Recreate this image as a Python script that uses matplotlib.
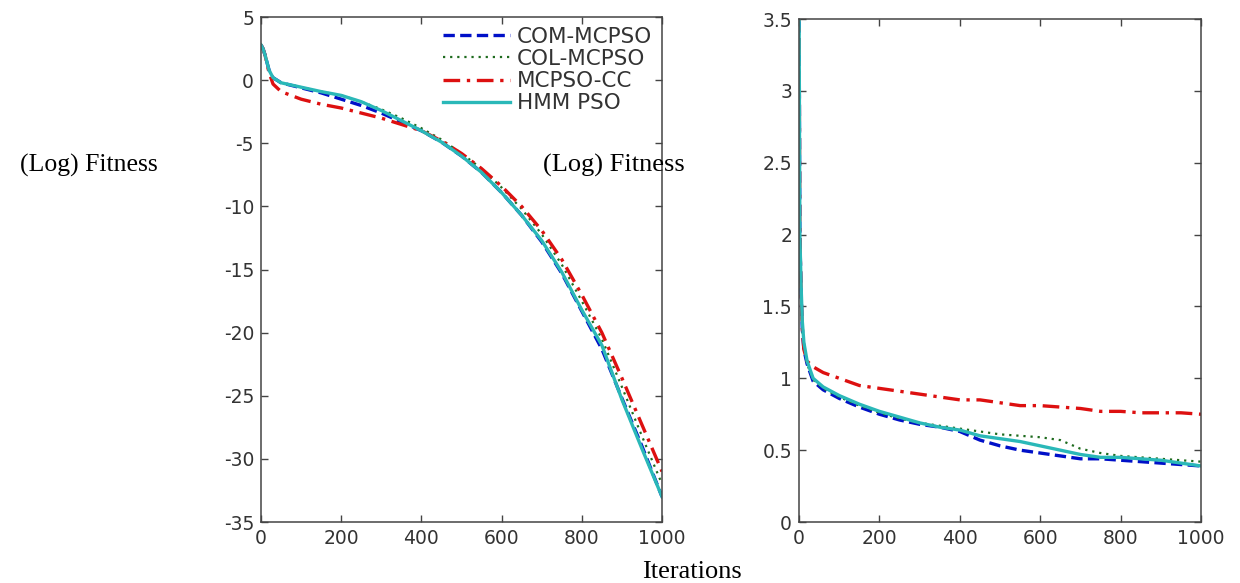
import matplotlib
matplotlib.use("Agg")
import matplotlib.pyplot as plt

plt.rcParams['axes.unicode_minus'] = False

# ---- left panel data (log fitness vs iterations) ----
iters_left = [0, 5, 10, 20, 30, 50, 100, 150, 200, 250, 300, 350, 400, 450,
              500, 550, 600, 650, 700, 750, 800, 850, 900, 950, 1000]
com_left = [2.8, 2.5, 2.0, 0.8, 0.2, -0.2, -0.6, -1.0, -1.5, -2.0, -2.6, -3.3, -4.0,
            -4.9, -6.0, -7.3, -8.9, -10.7, -12.8, -15.3, -18.3, -21.3, -25.2, -29.0, -33.0]
col_left = [2.8, 2.5, 2.0, 0.8, 0.2, -0.2, -0.55, -0.9, -1.2, -1.7, -2.3, -3.0, -3.8,
            -4.7, -5.8, -7.0, -8.5, -10.2, -12.2, -14.6, -17.5, -20.5, -24.3, -28.2, -32.0]
cc_left = [2.8, 2.5, 2.0, 0.6, -0.3, -0.9, -1.5, -1.9, -2.2, -2.6, -3.0, -3.5, -4.0,
           -4.8, -5.8, -7.0, -8.4, -10.0, -11.9, -14.2, -17.0, -20.0, -23.6, -27.3, -31.0]
hmm_left = [2.8, 2.5, 2.0, 0.8, 0.2, -0.2, -0.55, -0.9, -1.2, -1.7, -2.4, -3.2, -4.0,
            -4.9, -6.0, -7.3, -8.9, -10.7, -12.7, -15.2, -18.2, -21.0, -25.3, -29.2, -33.0]

# ---- right panel data ----
iters_right = [0, 2, 5, 8, 12, 20, 35, 60, 100, 150, 200, 250, 300, 350, 400,
               450, 500, 550, 600, 650, 700, 750, 800, 850, 900, 950, 1000]
com_right = [3.6, 2.0, 1.6, 1.35, 1.2, 1.1, 0.98, 0.92, 0.86, 0.80, 0.75, 0.71, 0.68, 0.66,
             0.63, 0.57, 0.53, 0.50, 0.48, 0.46, 0.44, 0.44, 0.43, 0.42, 0.41, 0.40, 0.39]
col_right = [3.6, 2.0, 1.6, 1.35, 1.22, 1.1, 0.99, 0.93, 0.87, 0.81, 0.76, 0.72, 0.69, 0.67,
             0.65, 0.63, 0.61, 0.60, 0.59, 0.57, 0.51, 0.48, 0.46, 0.45, 0.44, 0.43, 0.42]
cc_right = [3.6, 2.0, 1.6, 1.35, 1.2, 1.12, 1.08, 1.04, 1.0, 0.95, 0.93, 0.91, 0.89, 0.87,
            0.85, 0.85, 0.83, 0.81, 0.81, 0.80, 0.79, 0.77, 0.77, 0.76, 0.76, 0.76, 0.75]
hmm_right = [3.6, 2.0, 1.65, 1.4, 1.25, 1.12, 1.0, 0.94, 0.88, 0.82, 0.77, 0.73, 0.69, 0.66,
             0.64, 0.60, 0.58, 0.56, 0.53, 0.50, 0.47, 0.45, 0.45, 0.44, 0.43, 0.41, 0.39]

labels = ["COM-MCPSO", "COL-MCPSO", "MCPSO-CC", "HMM PSO"]
styles = [dict(color="#0010C8", ls=(0, (3.4, 1.6)), lw=2.4),
          dict(color="#1E6B1E", ls=(0, (1, 2.2)), lw=1.6),
          dict(color="#DD1010", ls=(0, (5, 2, 1, 2)), lw=2.4),
          dict(color="#2AB8B8", ls="-", lw=2.4)]

fig = plt.figure(figsize=(12.4, 5.83), dpi=100)
ax1 = fig.add_axes([0.2105, 0.1046, 0.3234, 0.866])
ax2 = fig.add_axes([0.6444, 0.1046, 0.3242, 0.8627])

for series, st, lab in zip([com_left, col_left, cc_left, hmm_left], styles, labels):
    ax1.plot(iters_left, series, label=lab, **st)
for series, st in zip([com_right, col_right, cc_right, hmm_right], styles):
    ax2.plot(iters_right, series, **st)

ax1.set_xlim(0, 1000)
ax1.set_ylim(-35, 5)
ax1.set_yticks(range(-35, 6, 5))
ax2.set_xlim(0, 1000)
ax2.set_ylim(0, 3.5)
ax2.set_yticks([0, 0.5, 1, 1.5, 2, 2.5, 3, 3.5])
ax2.set_yticklabels(["0", "0.5", "1", "1.5", "2", "2.5", "3", "3.5"])

for ax in (ax1, ax2):
    ax.set_xticks(range(0, 1001, 200))
    ax.tick_params(direction="in", top=True, right=True, length=5, width=1,
                   colors="#444444", labelcolor="#333333", labelsize=13.5,
                   labelfontfamily="DejaVu Sans", pad=5)
    for sp in ax.spines.values():
        sp.set_color("#444444")
        sp.set_linewidth(1.1)

ax1.legend(loc="upper right", frameon=False, handlelength=3.1,
           labelspacing=0.1, borderaxespad=0.05, handletextpad=0.35,
           prop={"family": "DejaVu Sans", "size": 15.5}, labelcolor="#333333")

fig.text(0.016, 0.705, "(Log) Fitness", family="Liberation Serif", fontsize=18.5,
         va="baseline", ha="left")
fig.text(0.438, 0.705, "(Log) Fitness", family="Liberation Serif", fontsize=19,
         va="baseline", ha="left")
fig.text(0.518, 0.008, "Iterations", family="Liberation Serif", fontsize=19,
         va="baseline", ha="left")

fig.savefig("out.png", dpi=100)
